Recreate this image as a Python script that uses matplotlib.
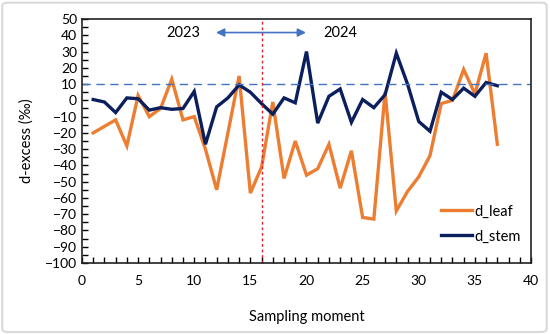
import numpy as np
import matplotlib.pyplot as plt
from matplotlib.patches import FancyBboxPatch
from matplotlib.ticker import MultipleLocator

# Значення
moment = list(range(1, 38))
d_leaf = [-20, -16, -12, -28, 3, -10, -5, 13, -12, -10,
          -30, -55, -20, 15, -57, -41, -1, -48, -25, -46,
          -42, -27, -54, -31, -72, -73, 5, -68, -56, -47,
          -34, -2, 0, 19, 4, 29, -27]
d_stem = [0.5, -1, -7.5, 1.5, 1, -6, -4.5, -5.5, -5, 5.5,
          -27, -4, 1.5, 9.5, 5, -2, -8.5, 1.5, -1.5, 30,
          -14, 2.5, 7, -13.5, 0.5, -4.5, 3.5, 29, 10, -13,
          -19, 5, 0.5, 7.5, 2.5, 11, 9]
ref_level = 10
split_moment = 16

plt.rcParams['font.family'] = ['Lato', 'DejaVu Sans']

fig = plt.figure(figsize=(5.5, 3.34), dpi=100)
ax = fig.add_axes([0.149, 0.2126, 0.8165, 0.7304])

ax.plot(moment, d_leaf, color='#ED7D31', lw=2.4, label='d_leaf', solid_joinstyle='miter')
ax.plot(moment, d_stem, color='#0B1F5C', lw=2.4, label='d_stem', solid_joinstyle='miter')
ax.axhline(ref_level, color='#4472C4', lw=1, ls=(0, (6, 4)))
ax.axvline(split_moment, color='#E0202A', lw=1, ls=(0, (2, 2)))

ax.set_xlim(0, 40)
ax.set_ylim(-100, 50)
ax.xaxis.set_major_locator(MultipleLocator(5))
ax.xaxis.set_minor_locator(MultipleLocator(1))
ax.yaxis.set_major_locator(MultipleLocator(10))
ax.yaxis.set_minor_locator(MultipleLocator(5))
ax.tick_params(which='both', direction='in', length=4, width=1, labelsize=10, colors='black')
ax.tick_params(axis='x', pad=9)
ax.set_yticklabels([f'{int(v)}'.replace('-', '\u2212') for v in ax.get_yticks()])

for s in ax.spines.values():
    s.set_linewidth(1.2)
    s.set_color('#222222')

ax.set_xlabel('Sampling moment', fontsize=10.5, labelpad=16)
ax.set_ylabel('d-excess (‰)', fontsize=10.5, labelpad=8)

# стрілка між роками
ax.annotate('', xy=(11.7, 41.7), xytext=(20.2, 41.7),
            arrowprops=dict(arrowstyle='<|-|>', color='#4472C4', lw=1.2,
                            mutation_scale=12))
ax.text(9.0, 41.7, '2023', fontsize=10.5, ha='center', va='center')
ax.text(23.0, 41.7, '2024', fontsize=10.5, ha='center', va='center')

ax.legend(loc='center left', bbox_to_anchor=(0.80, 0.16), frameon=False,
          borderpad=0, borderaxespad=0,
          fontsize=10.5, handlelength=2.1, handletextpad=0.15, labelspacing=0.75)

fig.patches.append(FancyBboxPatch((0.004, 0.006), 0.99, 0.986,
                                  boxstyle='round,pad=0,rounding_size=0.01',
                                  transform=fig.transFigure, fill=False,
                                  edgecolor='#D9D9D9', lw=1.5))

fig.savefig('out.png', dpi=100)
